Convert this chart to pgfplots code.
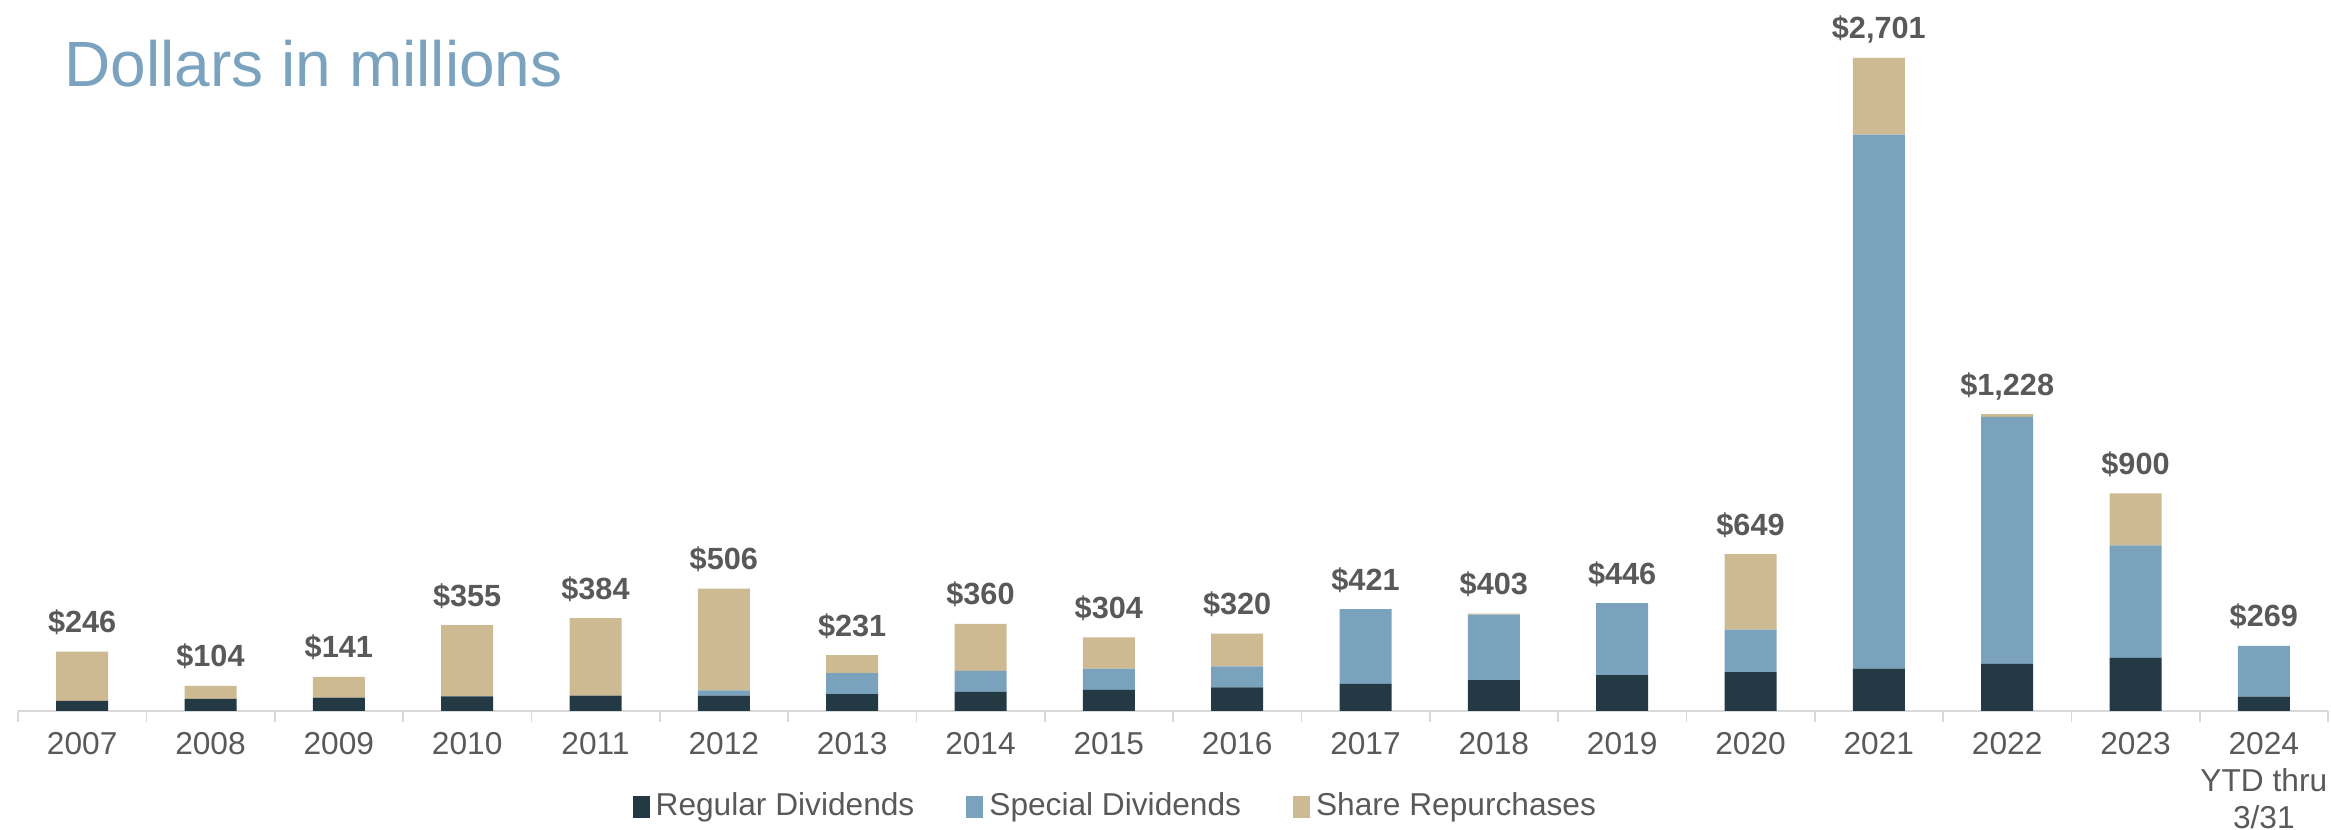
\documentclass[border=0pt]{standalone}
\usepackage{fontspec}
\setmainfont{Liberation Sans}
\usepackage{pgfplots}
\pgfplotsset{compat=1.18}
\usepackage{pgfplotstable}

\definecolor{regcol}{HTML}{233A45}
\definecolor{spccol}{HTML}{7BA2BD}
\definecolor{repcol}{HTML}{CDBA93}
\definecolor{txtgray}{HTML}{595959}
\definecolor{axgray}{HTML}{D9D9D9}
\definecolor{titleblue}{HTML}{7BA3C0}

% year, regular dividends, special dividends, share repurchases, total ($M)
\pgfplotstableread{
x year reg spc rep tot
0  2007 42  0    204 246
1  2008 50  0    54  104
2  2009 55  0    86  141
3  2010 60  0    295 355
4  2011 64  0    320 384
5  2012 64  21   421 506
6  2013 70  87   74  231
7  2014 79  87   194 360
8  2015 87  88   129 304
9  2016 98  87   135 320
10 2017 112 309  0   421
11 2018 128 270  5   403
12 2019 148 298  0   446
13 2020 161 175  313 649
14 2021 175 2208 318 2701
15 2022 195 1021 12  1228
16 2023 220 465  215 900
17 2024 59  210  0   269
}\payout

\pgfplotsset{
  legsq/.style={legend image code/.code={\fill[##1] (0pt,-3.3pt) rectangle (5.1pt,3.3pt);}},
  frame/.style={at={(5.4pt,35.7pt)}, anchor=south west,
    scale only axis, width=693pt, height=213.3pt,
    xmin=-0.5, xmax=17.5, ymin=0, ymax=2940, clip=false},
}

\begin{document}
\begin{tikzpicture}[x=1pt,y=1pt]
\useasboundingbox (0,0) rectangle (699.3,249);
\node[anchor=base west, inner sep=0pt, text=titleblue, font=\fontsize{19.2}{23}\selectfont] at (19.2,222.9) {Dollars in millions};
\begin{axis}[
    frame,
    ybar stacked, bar width=15.6pt,
    hide y axis,
    axis x line*=bottom,
    x axis line style={-, draw=axgray, line width=0.7pt},
    xtick={0,...,17},
    xticklabels={2007,2008,2009,2010,2011,2012,2013,2014,2015,2016,2017,2018,2019,2020,2021,2022,2023,{2024\\YTD thru\\3/31}},
    major tick length=0pt,
    minor xtick={-0.5,0.5,...,17.5},
    minor tick length=3.3pt,
    minor x tick style={draw=axgray, line width=0.5pt},
    tick align=outside,
    xticklabel style={font=\fontsize{9.5}{11.1}\selectfont, text=txtgray, align=center, inner sep=0pt, anchor=north, yshift=-6.3pt},
    legend columns=3,
    legend style={at={(axis description cs:0.2658,0)}, anchor=west, yshift=-28.8pt,
        draw=none, fill=none, inner sep=0pt, text=txtgray,
        font=\fontsize{9.5}{11}\selectfont,
        nodes={inner sep=0pt},
        /tikz/every even column/.append style={column sep=15.6pt},
        /tikz/every odd column/.append style={column sep=1.8pt}},
]
\addplot[fill=regcol, draw=none, legsq] table[x=x, y=reg] {\payout};
\addlegendentry{Regular Dividends}
\addplot[fill=spccol, draw=none, legsq] table[x=x, y=spc] {\payout};
\addlegendentry{Special Dividends}
\addplot[fill=repcol, draw=none, legsq] table[x=x, y=rep] {\payout};
\addlegendentry{Share Repurchases}
\end{axis}
% totals above the bars
\begin{axis}[frame, hide x axis, hide y axis,
    /pgf/number format/assume math mode=true]
\addplot[draw=none, mark=none, point meta=explicit,
    nodes near coords={\$\pgfmathprintnumber[1000 sep={,}]{\pgfplotspointmeta}},
    every node near coord/.append style={anchor=base, yshift=5.7pt, inner sep=0pt,
        text=txtgray, font=\fontsize{9.2}{11}\selectfont\bfseries}]
    table[x=x, y=tot, meta=tot] {\payout};
\end{axis}
\end{tikzpicture}
\end{document}
